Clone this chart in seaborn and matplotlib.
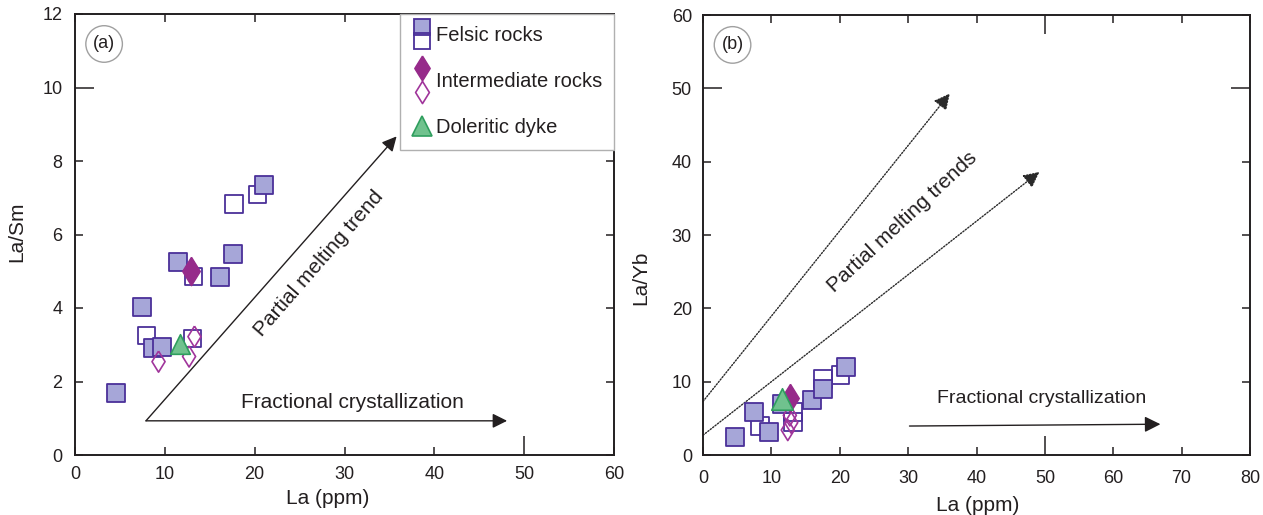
import matplotlib
matplotlib.use("Agg")
import matplotlib.pyplot as plt
import seaborn as sns
import pandas as pd
from matplotlib.lines import Line2D
from matplotlib.legend_handler import HandlerBase

# ---------------- data ----------------
# (a) La (ppm) vs La/Sm
a_felsic_fill_la = [4.6, 7.5, 8.7, 9.7, 11.5, 16.1, 17.6, 21.0]
a_felsic_fill_lasm = [1.68, 4.04, 2.90, 2.93, 5.24, 4.85, 5.48, 7.34]
a_felsic_open_la = [8.0, 13.2, 17.7, 20.3, 13.1]
a_felsic_open_lasm = [3.24, 4.85, 6.83, 7.09, 3.16]
a_inter_fill_la = [12.9]
a_inter_fill_lasm = [5.02]
a_inter_open_la = [9.3, 12.7, 13.3]
a_inter_open_lasm = [2.54, 2.68, 3.22]
a_dyke_la = [11.7]
a_dyke_lasm = [3.02]

# (b) La (ppm) vs La/Yb
b_felsic_fill_la = [4.7, 7.4, 9.6, 11.5, 15.9, 17.5, 20.9]
b_felsic_fill_layb = [2.4, 5.8, 3.1, 7.0, 7.5, 9.0, 12.0]
b_felsic_open_la = [8.3, 13.2, 13.2, 17.6, 20.1]
b_felsic_open_layb = [4.0, 5.9, 4.5, 10.4, 10.9]
b_inter_fill_la = [12.7]
b_inter_fill_layb = [7.8]
b_inter_open_la = [12.4, 12.9, 12.7]
b_inter_open_layb = [3.4, 4.4, 5.4]
b_dyke_la = [11.5]
b_dyke_layb = [7.6]

a_xticks = [0, 10, 20, 30, 40, 50, 60]
a_yticks = [0, 2, 4, 6, 8, 10, 12]
b_xticks = [0, 10, 20, 30, 40, 50, 60, 70, 80]
b_yticks = [0, 10, 20, 30, 40, 50, 60]

legend_labels = ["Felsic rocks", "Intermediate rocks", "Doleritic dyke"]

# ---------------- style ----------------
sns.set_style("ticks")
plt.rcParams["font.family"] = ["Liberation Sans", "DejaVu Sans"]
plt.rcParams["axes.edgecolor"] = "#231f20"
plt.rcParams["axes.linewidth"] = 1.4

SQ_FACE = "#a6a6d8"
SQ_EDGE = "#4b3099"
DIA_FILL = "#962a8a"
DIA_EDGE = "#a0359b"
TRI_FACE = "#70c28e"
TRI_EDGE = "#2f9e5e"
INK = "#231f20"

# slim diamond marker
DIAMOND = [(0, 1), (0.62, 0), (0, -1), (-0.62, 0), (0, 1)]

fig = plt.figure(figsize=(12.63, 5.15), dpi=100)
ax_a = fig.add_axes([75 / 1263, 60 / 515, 539 / 1263, 441 / 515])
ax_b = fig.add_axes([703 / 1263, 60 / 515, 547 / 1263, 440 / 515])


def draw_groups(ax, ff, fo, idf, ido, dk, sq, tri):
    sns.scatterplot(x=fo[0], y=fo[1], ax=ax, marker="s", s=sq, facecolor="none",
                    edgecolor=SQ_EDGE, linewidth=1.3, zorder=3)
    sns.scatterplot(x=ff[0], y=ff[1], ax=ax, marker="s", s=sq, color=SQ_FACE,
                    edgecolor=SQ_EDGE, linewidth=1.3, zorder=4)
    sns.scatterplot(x=ido[0], y=ido[1], ax=ax, marker=DIAMOND, s=230, facecolor="none",
                    edgecolor=DIA_EDGE, linewidth=1.2, zorder=5)
    sns.scatterplot(x=idf[0], y=idf[1], ax=ax, marker=DIAMOND, s=420, color=DIA_FILL,
                    edgecolor=DIA_FILL, linewidth=1.0, zorder=6)
    sns.scatterplot(x=dk[0], y=dk[1], ax=ax, marker="^", s=tri, color=TRI_FACE,
                    edgecolor=TRI_EDGE, linewidth=1.2, zorder=7)


draw_groups(ax_a, (a_felsic_fill_la, a_felsic_fill_lasm), (a_felsic_open_la, a_felsic_open_lasm),
            (a_inter_fill_la, a_inter_fill_lasm), (a_inter_open_la, a_inter_open_lasm),
            (a_dyke_la, a_dyke_lasm), sq=150, tri=200)
draw_groups(ax_b, (b_felsic_fill_la, b_felsic_fill_layb), (b_felsic_open_la, b_felsic_open_layb),
            (b_inter_fill_la, b_inter_fill_layb), (b_inter_open_la, b_inter_open_layb),
            (b_dyke_la, b_dyke_layb), sq=165, tri=240)

# ---------------- trend arrows ----------------
solid = dict(arrowstyle="-|>", color=INK, lw=1.0, mutation_scale=22, shrinkA=0, shrinkB=0)
ax_a.annotate("", xy=(35.8, 8.67), xytext=(7.9, 0.93), arrowprops=solid, zorder=1)
ax_a.annotate("", xy=(48.1, 0.93), xytext=(7.9, 0.93), arrowprops=solid, zorder=1)
ax_a.text(27.2, 5.2, "Partial melting trend", rotation=49, rotation_mode="anchor",
          ha="center", va="center", fontsize=15, color=INK)
ax_a.text(30.9, 1.44, "Fractional crystallization", ha="center", va="center",
          fontsize=15, color=INK)

dotted = dict(arrowstyle="-|>", color="#2a2a2a", lw=1.0, ls=(0, (1, 1.2)),
              mutation_scale=24, shrinkA=0, shrinkB=0)
ax_b.annotate("", xy=(36.1, 49.3), xytext=(0, 7.3), arrowprops=dotted, zorder=1)
ax_b.annotate("", xy=(49.2, 38.6), xytext=(0, 2.7), arrowprops=dotted, zorder=1)
ax_b.annotate("", xy=(66.9, 4.2), xytext=(30.2, 3.95),
              arrowprops=dict(solid, mutation_scale=24), zorder=1)
ax_b.text(29.2, 31.8, "Partial melting trends", rotation=43, rotation_mode="anchor",
          ha="center", va="center", fontsize=15, color=INK)
ax_b.text(49.5, 7.7, "Fractional crystallization", ha="center", va="center",
          fontsize=14, color=INK)

# ---------------- axes ----------------
def style_axes(ax, xticks, yticks, xlabel, ylabel, xlab_xy, ylab_xy, xpad, ypad):
    ax.set_xlim(xticks[0], xticks[-1])
    ax.set_ylim(yticks[0], yticks[-1])
    ax.set_xticks(xticks)
    ax.set_yticks(yticks)
    ax.tick_params(direction="in", length=6, width=1.1, color=INK, labelsize=13,
                   labelcolor=INK, top=True, right=True)
    ax.tick_params(axis="x", pad=xpad)
    ax.tick_params(axis="y", pad=ypad)
    for sp in ax.spines.values():
        sp.set_visible(True)
        sp.set_color(INK)
        sp.set_linewidth(1.4)
    ax.set_xlabel(xlabel, fontsize=15, color=INK)
    ax.set_ylabel(ylabel, fontsize=15, color=INK)
    ax.xaxis.set_label_coords(*xlab_xy)
    ax.yaxis.set_label_coords(*ylab_xy)


style_axes(ax_a, a_xticks, a_yticks, "La (ppm)", "La/Sm", (0.468, -0.078), (-0.09, 0.506), 8, 9)
style_axes(ax_b, b_xticks, b_yticks, "La (ppm)", "La/Yb", (0.503, -0.094), (-0.097, 0.402), 11, 8)


def lengthen(axis, ticks, value, first=True, second=True, size=14):
    for t, v in zip(axis.get_major_ticks(len(ticks)), ticks):
        if v == value:
            if first:
                t.tick1line.set_markersize(size)
            if second:
                t.tick2line.set_markersize(size)


lengthen(ax_a.yaxis, a_yticks, 10)
lengthen(ax_a.xaxis, a_xticks, 50, second=False)
lengthen(ax_b.yaxis, b_yticks, 50)
lengthen(ax_b.xaxis, b_xticks, 50)

# panel tags
for ax, tag in ((ax_a, "(a)"), (ax_b, "(b)")):
    ax.text(0.054, 0.932, tag, transform=ax.transAxes, ha="center", va="center",
            fontsize=13, color=INK,
            bbox=dict(boxstyle="circle,pad=0.4", fc="white", ec="#a0a0a0", lw=1.0))


# ---------------- legend ----------------
class StackedHandler(HandlerBase):
    """Draws a tuple of marker proxies stacked vertically."""

    def create_artists(self, legend, orig_handle, xdescent, ydescent, width, height,
                       fontsize, trans):
        handles = orig_handle if isinstance(orig_handle, tuple) else (orig_handle,)
        n = len(handles)
        xc = width / 2 - xdescent
        yc = height / 2 - ydescent
        gap = max(h.get_markersize() for h in handles) * 0.95
        arts = []
        for i, h in enumerate(handles):
            y = yc + ((n - 1) / 2 - i) * gap
            ln = Line2D([xc], [y], marker=h.get_marker(), markersize=h.get_markersize(),
                        markerfacecolor=h.get_markerfacecolor(),
                        markeredgecolor=h.get_markeredgecolor(),
                        markeredgewidth=h.get_markeredgewidth(), linestyle="none",
                        transform=trans)
            arts.append(ln)
        return arts


def proxy(marker, size, fc, ec, ew):
    return Line2D([], [], marker=marker, markersize=size, markerfacecolor=fc,
                  markeredgecolor=ec, markeredgewidth=ew, linestyle="none")


felsic_h = (proxy("s", 11, SQ_FACE, SQ_EDGE, 1.3), proxy("s", 11, "none", SQ_EDGE, 1.3))
inter_h = (proxy(DIAMOND, 18, DIA_FILL, DIA_FILL, 1.0), proxy(DIAMOND, 16, "none", DIA_EDGE, 1.2))
dyke_h = proxy("^", 15, TRI_FACE, TRI_EDGE, 1.2)

leg = ax_a.legend([felsic_h, inter_h, dyke_h], legend_labels,
                  handler_map={tuple: StackedHandler(), Line2D: StackedHandler()},
                  loc="upper right", bbox_to_anchor=(1.0, 1.0), borderaxespad=0,
                  fontsize=14.5, frameon=True, fancybox=False, framealpha=1,
                  edgecolor="#b0b0b0", borderpad=0.6, labelspacing=1.35,
                  handlelength=0.9, handletextpad=0.25, handleheight=0.7)
leg.get_frame().set_linewidth(1.0)
for t in leg.get_texts():
    t.set_color(INK)

fig.savefig("out.png", dpi=100)
